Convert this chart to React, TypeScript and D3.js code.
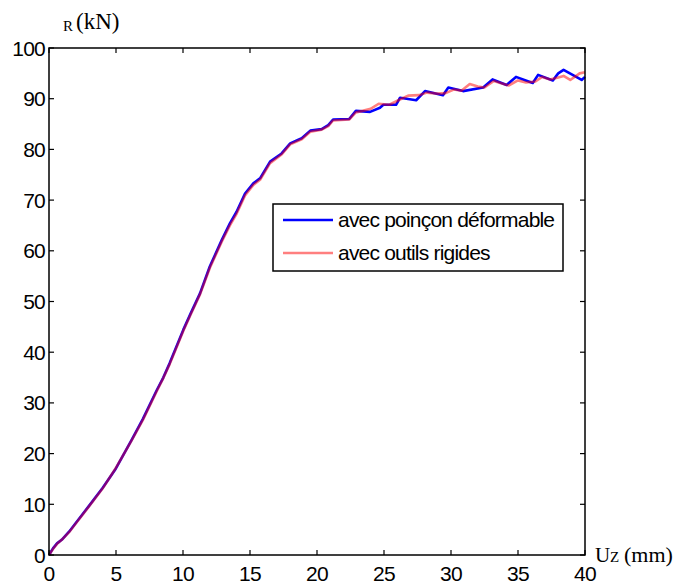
import React from "react";
import * as d3 from "d3";

const xTicks = [0, 5, 10, 15, 20, 25, 30, 35, 40];
const yTicks = [0, 10, 20, 30, 40, 50, 60, 70, 80, 90, 100];

const blueX = [0, 0.3, 0.6, 0.95, 1.5, 2.0, 2.93, 4.0, 4.93, 6.17, 7.0, 8.04, 8.53, 9.0, 10.02, 10.6, 11.27, 12.0, 12.89, 13.5, 14.0, 14.63, 15.25, 15.75, 16.5, 17.36, 18.0, 18.86, 19.5, 20.35, 20.84, 21.2, 22.4, 22.9, 23.96, 24.7, 24.95, 25.9, 26.2, 27.4, 28.06, 29.4, 29.8, 30.9, 32.4, 33.1, 34.15, 34.85, 36.1, 36.5, 37.6, 38.0, 38.4, 39.75, 40];
const blueY = [0, 1.3, 2.3, 3.0, 4.6, 6.3, 9.5, 13.2, 16.8, 22.7, 26.8, 32.5, 35.0, 37.8, 44.4, 47.8, 51.6, 56.9, 62.1, 65.4, 67.7, 71.3, 73.3, 74.3, 77.6, 79.2, 81.2, 82.2, 83.7, 84.0, 84.8, 85.9, 86.0, 87.6, 87.4, 88.2, 88.8, 88.8, 90.2, 89.7, 91.5, 90.7, 92.2, 91.5, 92.2, 93.8, 92.7, 94.3, 93.1, 94.7, 93.6, 95.0, 95.7, 93.7, 94.3];

const redX = [0, 0.3, 0.6, 0.95, 1.5, 2.0, 2.93, 4.0, 4.93, 6.17, 7.0, 8.04, 8.53, 9.0, 10.02, 10.6, 11.27, 12.0, 12.89, 13.5, 14.0, 14.63, 15.25, 15.75, 16.5, 17.36, 18.0, 18.86, 19.5, 20.35, 20.84, 21.2, 22.4, 22.9, 23.4, 24.0, 24.6, 25.4, 26.0, 26.8, 27.6, 28.2, 29.0, 29.6, 30.2, 30.8, 31.4, 32.0, 32.5, 33.2, 33.8, 34.3, 35.0, 35.6, 36.3, 36.8, 37.4, 38.0, 38.4, 38.9, 39.6, 40];
const redY = [0, 1.2, 2.2, 3.0, 4.5, 6.2, 9.4, 13.1, 16.9, 22.6, 26.6, 32.3, 34.9, 37.6, 44.2, 47.6, 51.4, 56.6, 61.8, 65.0, 67.3, 70.9, 73.0, 74.0, 77.3, 79.0, 81.0, 82.0, 83.5, 83.9, 84.6, 85.7, 85.9, 87.3, 87.6, 88.0, 89.0, 88.8, 89.6, 90.6, 90.7, 91.2, 91.0, 91.1, 91.8, 91.6, 92.9, 92.4, 92.2, 93.5, 93.0, 92.6, 93.6, 93.2, 93.4, 94.3, 93.8, 94.2, 94.5, 93.7, 95.0, 95.2];

const legendLabels = ["avec poinçon déformable", "avec outils rigides"];

export default function App() {
  const left = 49, right = 585, top = 48, bottom = 555;
  const x = d3.scaleLinear().domain([0, 40]).range([left, right]);
  const y = d3.scaleLinear().domain([0, 100]).range([bottom, top]);
  const line = d3.line<[number, number]>().x((d) => x(d[0])).y((d) => y(d[1]));
  const blue = blueX.map((v, i) => [v, blueY[i]] as [number, number]);
  const red = redX.map((v, i) => [v, redY[i]] as [number, number]);
  const tickFont = "Liberation Sans, Arial, sans-serif";
  const serif = "Liberation Serif, Times New Roman, serif";
  return (
    <svg width={674} height={585} style={{ position: "absolute", left: 0, top: 0, background: "#fff" }}>
      <rect x={0} y={0} width={674} height={585} fill="#fff" />
      <path d={line(blue) || ""} fill="none" stroke="#0000ff" strokeWidth={2.6} strokeLinejoin="round" />
      <path d={line(red) || ""} fill="none" stroke="#ff0000" strokeOpacity={0.5} strokeWidth={2.6} strokeLinejoin="round" />
      <rect x={left} y={top} width={right - left} height={bottom - top} fill="none" stroke="#000" strokeWidth={1.5} />
      {xTicks.map((t) => (
        <g key={"x" + t}>
          <line x1={x(t)} x2={x(t)} y1={bottom} y2={bottom - 5} stroke="#000" strokeWidth={1.2} />
          <line x1={x(t)} x2={x(t)} y1={top} y2={top + 5} stroke="#000" strokeWidth={1.2} />
          <text x={x(t)} y={581} textAnchor="middle" fontFamily={tickFont} fontSize={21} letterSpacing={-0.8}>{t}</text>
        </g>
      ))}
      {yTicks.map((t) => (
        <g key={"y" + t}>
          <line x1={left} x2={left + 5} y1={y(t)} y2={y(t)} stroke="#000" strokeWidth={1.2} />
          <line x1={right} x2={right - 5} y1={y(t)} y2={y(t)} stroke="#000" strokeWidth={1.2} />
          <text x={45} y={y(t) + 7.5} textAnchor="end" fontFamily={tickFont} fontSize={21} letterSpacing={-0.8}>{t}</text>
        </g>
      ))}
      <text x={63} y={31} fontFamily={serif} fontSize={15}>R</text>
      <text x={76} y={29} fontFamily={serif} fontSize={23}>(kN)</text>
      <text x={595} y={562} fontFamily={serif} fontSize={21}>U</text>
      <text x={610} y={562} fontFamily={serif} fontSize={15}>Z</text>
      <text x={624} y={562} fontFamily={serif} fontSize={22}>(mm)</text>
      <rect x={273} y={204} width={290} height={67} fill="#fff" stroke="#000" strokeWidth={1.5} />
      <line x1={283} x2={333} y1={220} y2={220} stroke="#0000ff" strokeWidth={2.6} />
      <line x1={283} x2={333} y1={253} y2={253} stroke="#ff0000" strokeOpacity={0.5} strokeWidth={2.6} />
      <text x={338} y={227} fontFamily={tickFont} fontSize={21} letterSpacing={-0.8}>{legendLabels[0]}</text>
      <text x={338} y={260} fontFamily={tickFont} fontSize={21} letterSpacing={-0.8}>{legendLabels[1]}</text>
    </svg>
  );
}
